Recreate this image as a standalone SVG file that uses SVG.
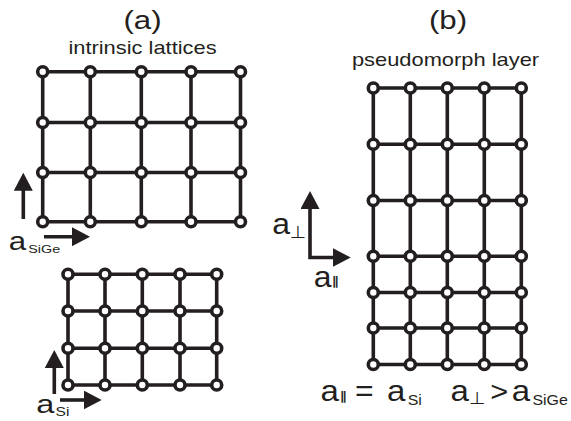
<svg xmlns="http://www.w3.org/2000/svg" xmlns:xlink="http://www.w3.org/1999/xlink" width="571" height="421" viewBox="0 0 571 421">
<style>
.ln{stroke:#231f20;stroke-width:3.6;fill:none;stroke-linecap:square}
.nd{fill:#fff;stroke:#231f20;stroke-width:3.6}
.ar{stroke:#231f20;stroke-width:3.6;fill:none;stroke-linejoin:miter}
text{font-family:"Liberation Sans",Arial,sans-serif;fill:#231f20}
.sym{font-family:"DejaVu Sans",sans-serif}
.par{font-family:"DejaVu Sans",sans-serif;font-weight:bold}
</style>
<defs>
<circle id="n" r="5" class="nd"/>
<marker id="ah" markerUnits="userSpaceOnUse" viewBox="0 0 18 19" markerWidth="18" markerHeight="19" refX="6" refY="9.5" orient="auto-start-reverse"><path d="M0,0L18,9.5L0,19z" fill="#231f20"/></marker>
</defs>
<rect width="571" height="421" fill="#fff"/>

<g id="titles">
<text transform="scale(1.25,1)" x="114" y="29" font-size="25" text-anchor="middle">(a)</text>
<text transform="scale(1.25,1)" x="114" y="54.5" font-size="17.5" text-anchor="middle">intrinsic lattices</text>
<text transform="scale(1.25,1)" x="358.4" y="29" font-size="25" text-anchor="middle">(b)</text>
<text transform="scale(1.25,1)" x="356.4" y="66.5" font-size="17.5" text-anchor="middle">pseudomorph layer</text>
</g>

<g id="lattice-sige">
<path class="ln" d="M42.7,71.7H240.5M42.7,122.5H240.5M42.7,172.5H240.5M42.7,221.7H240.5M42.7,71.7V221.7M90.3,71.7V221.7M141.3,71.7V221.7M191,71.7V221.7M240.5,71.7V221.7"/>
<use xlink:href="#n" x="42.7" y="71.7"/><use xlink:href="#n" x="90.3" y="71.7"/><use xlink:href="#n" x="141.3" y="71.7"/><use xlink:href="#n" x="191" y="71.7"/><use xlink:href="#n" x="240.5" y="71.7"/>
<use xlink:href="#n" x="42.7" y="122.5"/><use xlink:href="#n" x="90.3" y="122.5"/><use xlink:href="#n" x="141.3" y="122.5"/><use xlink:href="#n" x="191" y="122.5"/><use xlink:href="#n" x="240.5" y="122.5"/>
<use xlink:href="#n" x="42.7" y="172.5"/><use xlink:href="#n" x="90.3" y="172.5"/><use xlink:href="#n" x="141.3" y="172.5"/><use xlink:href="#n" x="191" y="172.5"/><use xlink:href="#n" x="240.5" y="172.5"/>
<use xlink:href="#n" x="42.7" y="221.7"/><use xlink:href="#n" x="90.3" y="221.7"/><use xlink:href="#n" x="141.3" y="221.7"/><use xlink:href="#n" x="191" y="221.7"/><use xlink:href="#n" x="240.5" y="221.7"/>
</g>

<g id="lattice-si">
<path class="ln" d="M68,274.3H216.7M68,311H216.7M68,348.3H216.7M68,385H216.7M68,274.3V385M105,274.3V385M142.3,274.3V385M180,274.3V385M216.7,274.3V385"/>
<use xlink:href="#n" x="68" y="274.3"/><use xlink:href="#n" x="105" y="274.3"/><use xlink:href="#n" x="142.3" y="274.3"/><use xlink:href="#n" x="180" y="274.3"/><use xlink:href="#n" x="216.7" y="274.3"/>
<use xlink:href="#n" x="68" y="311"/><use xlink:href="#n" x="105" y="311"/><use xlink:href="#n" x="142.3" y="311"/><use xlink:href="#n" x="180" y="311"/><use xlink:href="#n" x="216.7" y="311"/>
<use xlink:href="#n" x="68" y="348.3"/><use xlink:href="#n" x="105" y="348.3"/><use xlink:href="#n" x="142.3" y="348.3"/><use xlink:href="#n" x="180" y="348.3"/><use xlink:href="#n" x="216.7" y="348.3"/>
<use xlink:href="#n" x="68" y="385"/><use xlink:href="#n" x="105" y="385"/><use xlink:href="#n" x="142.3" y="385"/><use xlink:href="#n" x="180" y="385"/><use xlink:href="#n" x="216.7" y="385"/>
</g>

<g id="lattice-pseudomorph">
<path class="ln" d="M373.3,88H521.3M373.3,144.3H521.3M373.3,200.5H521.3M373.3,256.3H521.3M373.3,292.5H521.3M373.3,328H521.3M373.3,364.5H521.3M373.3,88V364.5M410.3,88V364.5M447.3,88V364.5M484.3,88V364.5M521.3,88V364.5"/>
<use xlink:href="#n" x="373.3" y="88"/><use xlink:href="#n" x="410.3" y="88"/><use xlink:href="#n" x="447.3" y="88"/><use xlink:href="#n" x="484.3" y="88"/><use xlink:href="#n" x="521.3" y="88"/>
<use xlink:href="#n" x="373.3" y="144.3"/><use xlink:href="#n" x="410.3" y="144.3"/><use xlink:href="#n" x="447.3" y="144.3"/><use xlink:href="#n" x="484.3" y="144.3"/><use xlink:href="#n" x="521.3" y="144.3"/>
<use xlink:href="#n" x="373.3" y="200.5"/><use xlink:href="#n" x="410.3" y="200.5"/><use xlink:href="#n" x="447.3" y="200.5"/><use xlink:href="#n" x="484.3" y="200.5"/><use xlink:href="#n" x="521.3" y="200.5"/>
<use xlink:href="#n" x="373.3" y="256.3"/><use xlink:href="#n" x="410.3" y="256.3"/><use xlink:href="#n" x="447.3" y="256.3"/><use xlink:href="#n" x="484.3" y="256.3"/><use xlink:href="#n" x="521.3" y="256.3"/>
<use xlink:href="#n" x="373.3" y="292.5"/><use xlink:href="#n" x="410.3" y="292.5"/><use xlink:href="#n" x="447.3" y="292.5"/><use xlink:href="#n" x="484.3" y="292.5"/><use xlink:href="#n" x="521.3" y="292.5"/>
<use xlink:href="#n" x="373.3" y="328"/><use xlink:href="#n" x="410.3" y="328"/><use xlink:href="#n" x="447.3" y="328"/><use xlink:href="#n" x="484.3" y="328"/><use xlink:href="#n" x="521.3" y="328"/>
<use xlink:href="#n" x="373.3" y="364.5"/><use xlink:href="#n" x="410.3" y="364.5"/><use xlink:href="#n" x="447.3" y="364.5"/><use xlink:href="#n" x="484.3" y="364.5"/><use xlink:href="#n" x="521.3" y="364.5"/>
</g>

<g id="connectors">
<path class="ar" d="M23.3,219V184.7" marker-end="url(#ah)"/>
<path class="ar" d="M44,236.7H78" marker-end="url(#ah)"/>
<path class="ar" d="M54.3,394V362" marker-end="url(#ah)"/>
<path class="ar" d="M60,400H89.7" marker-end="url(#ah)"/>
<path class="ar" d="M310,203V257.5H338.7" marker-start="url(#ah)" marker-end="url(#ah)"/>
</g>

<g id="labels">
<text transform="scale(1.25,1)"><tspan x="7" y="250.5" font-size="25">a</tspan><tspan x="22.6" y="253" font-size="11.5">SiGe</tspan></text>
<text transform="scale(1.25,1)"><tspan x="29" y="413" font-size="26">a</tspan><tspan x="44.4" y="416.5" font-size="12.5">Si</tspan></text>
<text transform="scale(1.1,1)"><tspan x="247.4" y="234.5" font-size="29">a</tspan><tspan class="sym" x="263.7" y="238.5" font-size="17">⊥</tspan></text>
<text transform="scale(1.1,1)"><tspan x="285.3" y="287.5" font-size="29">a</tspan><tspan class="par" x="301.7" y="285" font-size="12">∥</tspan></text>
<text transform="scale(1.1,1)"><tspan x="291.4" y="401" font-size="30">a</tspan><tspan class="par" x="308.8" y="400.5" font-size="12">∥</tspan><tspan x="322.8" y="401" font-size="29">=</tspan><tspan x="351.9" y="401" font-size="30">a</tspan><tspan x="370.6" y="405.5" font-size="14.5">Si</tspan><tspan x="409.5" y="401" font-size="30">a</tspan><tspan class="sym" x="426.5" y="404.5" font-size="17">⊥</tspan><tspan x="445.6" y="401" font-size="28">&gt;</tspan><tspan x="465.3" y="401" font-size="30">a</tspan><tspan x="484" y="405.5" font-size="14.5">SiGe</tspan></text>
</g>
</svg>
